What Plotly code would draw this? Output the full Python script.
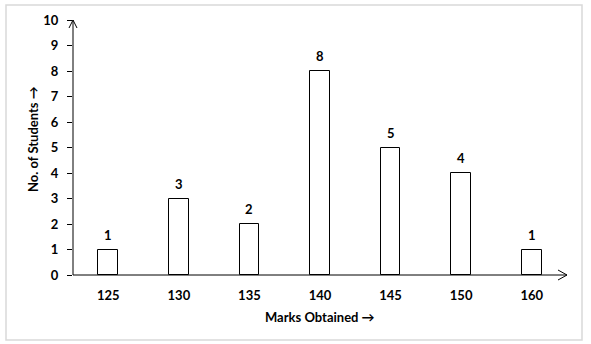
import plotly.graph_objects as go

categories = ["125", "130", "135", "140", "145", "150", "160"]
students = [1, 3, 2, 8, 5, 4, 1]
y_ticks = list(range(0, 11))

FONT = "Lato"
W, H = 591, 344
ML, MR, MT, MB = 73, 24, 20, 69
PW, PH = W - ML - MR, H - MT - MB


def px_x(px):
    return (px - ML) / PW


def px_y(py):
    return (H - MB - py) / PH


bold = dict(family=FONT, size=13, color="black", weight="bold")

fig = go.Figure(
    go.Bar(
        x=categories,
        y=students,
        width=0.28,
        marker=dict(color="white", line=dict(color="black", width=1)),
        hoverinfo="x+y",
    )
)

fig.update_layout(
    width=W,
    height=H,
    margin=dict(l=ML, r=MR, t=MT, b=MB),
    plot_bgcolor="white",
    paper_bgcolor="white",
    showlegend=False,
    bargap=0,
    font=dict(family=FONT, size=13, color="black"),
    xaxis=dict(
        type="category",
        range=[-0.5, 6.5],
        showline=False,
        showgrid=False,
        zeroline=False,
        ticks="",
        tickfont=bold,
        ticklabelstandoff=11,
    ),
    yaxis=dict(
        range=[0, 10],
        tickvals=y_ticks,
        showline=False,
        showgrid=False,
        zeroline=False,
        ticks="outside",
        ticklen=5,
        tickcolor="black",
        tickwidth=1,
        tickfont=bold,
        ticklabelstandoff=6,
    ),
)

shapes = []
# outer border
shapes.append(dict(type="rect", xref="paper", yref="paper",
                   x0=px_x(6), x1=px_x(582), y0=px_y(340), y1=px_y(5),
                   line=dict(color="#d9d9d9", width=1.5), fillcolor="rgba(0,0,0,0)", layer="below"))
# y axis line
shapes.append(dict(type="line", xref="paper", yref="paper", x0=0, x1=0, y0=0, y1=1,
                   line=dict(color="black", width=1)))
# x axis line
shapes.append(dict(type="line", xref="paper", yref="paper", x0=0, x1=1, y0=0, y1=0,
                   line=dict(color="black", width=1)))
# y arrow head
shapes.append(dict(type="path", xref="paper", yref="paper",
                   xsizemode="pixel", ysizemode="pixel", xanchor=0, yanchor=1,
                   path="M -4,-8 L 0,0 L 4,-8", line=dict(color="black", width=1)))
# x arrow head
shapes.append(dict(type="path", xref="paper", yref="paper",
                   xsizemode="pixel", ysizemode="pixel", xanchor=1, yanchor=0,
                   path="M -9,5 L 0,0 L -9,-5", line=dict(color="black", width=1)))
fig.update_layout(shapes=shapes)

# value labels above bars (category axis -> use category index)
for i, v in enumerate(students):
    fig.add_annotation(text=str(v), x=i, y=v, xref="x", yref="y",
                       showarrow=False, xanchor="center", yanchor="middle",
                       yshift=15, font=bold)

fig.add_annotation(text="Marks Obtained \u2192", xref="paper", yref="paper",
                   x=px_x(320), y=px_y(317), showarrow=False,
                   xanchor="center", yanchor="middle", font=bold)
fig.add_annotation(text="No. of Students \u2192", xref="paper", yref="paper",
                   x=px_x(33), y=px_y(139), showarrow=False, textangle=-90,
                   xanchor="center", yanchor="middle", font=bold)

fig.write_html("out.html")
